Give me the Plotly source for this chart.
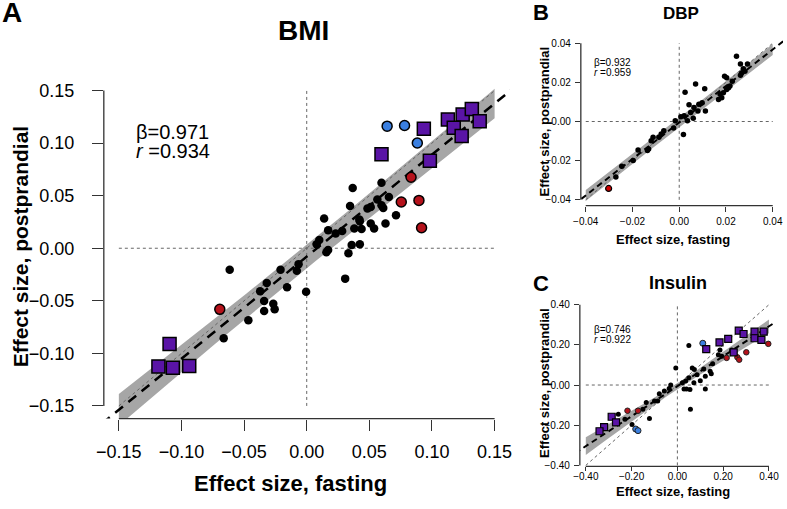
import numpy as np
import plotly.graph_objects as go

W, H = 787, 509
FONT = "Arial, Liberation Sans, Helvetica, sans-serif"

# ---------------- Panel A: BMI ----------------
bmi_black_x = [0.0367, 0.0597, 0.0346, 0.0564, 0.0656, 0.0611, 0.0485, 0.0511, 0.0713, 0.0139,
               0.0420, 0.0511, 0.0629, 0.0538, 0.0380, 0.0438, 0.0171, 0.0231, 0.0283, 0.0100,
               0.0079, 0.0359, 0.0424, 0.0171, 0.0157, 0.0333, -0.0209, -0.0065, -0.0079, 0.0307,
               -0.0319, -0.0157, -0.0005, -0.0372, -0.0340, -0.0267, -0.0256, -0.0340, -0.0615, -0.0466,
               -0.0663, 0.0424, 0.0597]
bmi_black_y = [0.0572, 0.0622, 0.0402, 0.0464, 0.0487, 0.0383, 0.0377, 0.0393, 0.0314, 0.0283,
               0.0273, 0.0236, 0.0236, 0.0188, 0.0188, 0.0182, 0.0172, 0.0141, 0.0163, 0.0078,
               0.0038, 0.0031, 0.0038, -0.0016, -0.0038, -0.0047, -0.0204, -0.0151, -0.0214, -0.0289,
               -0.0330, -0.0370, -0.0414, -0.0408, -0.0502, -0.0528, -0.0581, -0.0596, -0.0204, -0.0685,
               -0.0857, 0.0257, 0.0408]
bmi_red_x = [0.0833, 0.0755, 0.0896, 0.0917, -0.0694]
bmi_red_y = [0.0675, 0.0440, 0.0455, 0.0195, -0.0581]
bmi_blue_x = [0.0642, 0.0781, 0.0883]
bmi_blue_y = [0.1161, 0.1168, 0.1001]
bmi_purple_x = [0.0935, 0.0597, 0.1127, 0.1245, 0.1318, 0.1381, 0.1174, 0.1237, 0.0983,
                -0.1095, -0.1184, -0.1069, -0.0938]
bmi_purple_y = [0.1137, 0.0895, 0.1225, 0.1272, 0.1325, 0.1209, 0.1146, 0.1067, 0.0832,
                -0.0911, -0.1124, -0.1137, -0.1121]
bmi_beta, bmi_intercept, bmi_r = 0.971, -0.008, 0.934
bmi_band_x = [-0.15, -0.075, 0.0, 0.075, 0.15]
bmi_band_half = [0.015, 0.012, 0.011, 0.012, 0.014]
bmi_ticks = [-0.15, -0.10, -0.05, 0.00, 0.05, 0.10, 0.15]

# ---------------- Panel B: DBP ----------------
dbp_black_x = [0.0245, 0.0262, 0.0292, 0.0274, 0.0267, 0.0281, 0.0262, 0.0194, 0.0203, 0.0227,
               0.0217, 0.0203, 0.0189, 0.0175, 0.0168, 0.0182, 0.0211, 0.0109, 0.0070, 0.0025,
               0.0084, 0.0098, 0.0042, 0.0063, 0.0112, 0.0080, 0.0049, 0.0021, 0.0007, 0.0060,
               0.0035, -0.0017, -0.0024, 0.0018, -0.0066, -0.0077, -0.0087, -0.0112, -0.0120, -0.0131,
               -0.0136, -0.0176, -0.0197, -0.0246, -0.0271]
dbp_black_y = [0.0334, 0.0294, 0.0294, 0.0270, 0.0248, 0.0257, 0.0236, 0.0231, 0.0223, 0.0206,
               0.0181, 0.0164, 0.0147, 0.0139, 0.0113, 0.0122, 0.0172, 0.0167, 0.0192, 0.0150,
               0.0088, 0.0096, 0.0085, 0.0071, 0.0054, 0.0054, 0.0046, 0.0029, 0.0024, 0.0017,
               0.0004, 0.0004, -0.0033, -0.0067, -0.0047, -0.0064, -0.0081, -0.0081, -0.0098, -0.0140,
               -0.0148, -0.0145, -0.0199, -0.0229, -0.0284]
dbp_red_x = [-0.0302]
dbp_red_y = [-0.0342]
dbp_beta, dbp_intercept, dbp_r = 0.932, -0.0005, 0.959
dbp_band_x = [-0.04, 0.0, 0.04]
dbp_band_half = [0.0028, 0.0022, 0.0028]
dbp_ticks = [-0.04, -0.02, 0.00, 0.02, 0.04]

# ---------------- Panel C: Insulin ----------------
ins_black_x = [0.050, -0.007, 0.065, 0.074, 0.115, 0.143, 0.148, 0.086, 0.050, 0.036,
               0.022, 0.122, 0.100, 0.072, 0.029, 0.040, 0.055, 0.122, 0.057, -0.057,
               -0.036, -0.029, -0.079, -0.151, -0.122, 0.179, 0.194, 0.237, 0.154, -0.086,
               -0.136, -0.100, 0.186, -0.258, -0.229, -0.198]
ins_black_y = [0.197, 0.085, 0.085, 0.077, 0.080, 0.069, 0.056, 0.051, 0.036, 0.020,
               0.011, 0.044, 0.021, 0.011, -0.020, -0.020, -0.022, -0.020, -0.120, -0.030,
               -0.017, 0.000, -0.043, -0.120, -0.166, 0.151, 0.143, 0.175, 0.106, -0.079,
               -0.087, -0.079, 0.175, -0.145, -0.170, -0.197]
ins_red_x = [0.397, 0.301, 0.262, 0.270, 0.215, -0.218, -0.172]
ins_red_y = [0.205, 0.163, 0.138, 0.126, 0.135, -0.128, -0.128]
ins_blue_x = [0.111, -0.182, -0.172]
ins_blue_y = [0.208, -0.219, -0.227]
ins_purple_x = [0.268, 0.222, 0.184, 0.289, 0.337, 0.377, 0.337, 0.367, 0.246, 0.126,
                -0.287, -0.268, -0.320, -0.340]
ins_purple_y = [0.271, 0.230, 0.212, 0.254, 0.266, 0.266, 0.233, 0.225, 0.163, 0.179,
                -0.158, -0.186, -0.210, -0.230]
ins_beta, ins_intercept, ins_r = 0.746, -0.006, 0.922
ins_band_x = [-0.40, -0.20, 0.0, 0.20, 0.40]
ins_band_half = [0.044, 0.025, 0.013, 0.020, 0.034]
ins_ticks = [-0.40, -0.20, 0.00, 0.20, 0.40]

RED = "#B5121B"
BLUE = "#3A7FE0"
PURPLE = "#5A14A6"
BAND = "#A6A6A6"
AXC = "#333333"


def px(xp):
    return xp / W


def py(yp):
    return 1 - yp / H


fig = go.Figure()


def add_panel(ax, beta, icpt, band_x, band_half, lim, line_w, dash_w, groups):
    xa = "x" + ("" if ax == 1 else str(ax))
    ya = "y" + ("" if ax == 1 else str(ax))
    bx = np.array(band_x, dtype=float)
    fine = np.linspace(bx[0], bx[-1], 60)
    half = np.interp(fine, bx, np.array(band_half, dtype=float))
    mid = beta * fine + icpt
    fig.add_trace(go.Scatter(x=np.concatenate([fine, fine[::-1]]),
                             y=np.concatenate([mid + half, (mid - half)[::-1]]),
                             fill="toself", fillcolor=BAND, line=dict(width=0),
                             mode="lines", hoverinfo="skip", xaxis=xa, yaxis=ya))
    # dotted reference lines
    for xs, ys in [([0, 0], [-lim, lim]), ([-lim, lim], [0, 0]), ([-lim, lim], [-lim, lim])]:
        fig.add_trace(go.Scatter(x=xs, y=ys, mode="lines",
                                 line=dict(color="#666666", width=1, dash="dot"),
                                 hoverinfo="skip", xaxis=xa, yaxis=ya))
    # regression line
    ext = lim * 1.3
    fig.add_trace(go.Scatter(x=[-ext, ext], y=[beta * -ext + icpt, beta * ext + icpt],
                             mode="lines", line=dict(color="black", width=dash_w, dash=line_w),
                             hoverinfo="skip", xaxis=xa, yaxis=ya))
    for gx, gy, marker in groups:
        fig.add_trace(go.Scatter(x=gx, y=gy, mode="markers", marker=marker,
                                 cliponaxis=False, xaxis=xa, yaxis=ya))


add_panel(1, bmi_beta, bmi_intercept, bmi_band_x, bmi_band_half, 0.15, "10px,7px", 2.5, [
    (bmi_black_x, bmi_black_y, dict(color="black", size=8.5, line=dict(width=0))),
    (bmi_red_x, bmi_red_y, dict(color=RED, size=10, line=dict(color="black", width=1.5))),
    (bmi_blue_x, bmi_blue_y, dict(color=BLUE, size=10, line=dict(color="black", width=1.5))),
    (bmi_purple_x, bmi_purple_y, dict(color=PURPLE, size=13, symbol="square",
                                      line=dict(color="black", width=1.5))),
])
add_panel(2, dbp_beta, dbp_intercept, dbp_band_x, dbp_band_half, 0.04, "6px,4px", 2, [
    (dbp_black_x, dbp_black_y, dict(color="black", size=5.5, line=dict(width=0))),
    (dbp_red_x, dbp_red_y, dict(color="#D00000", size=6, line=dict(color="black", width=1.2))),
])
add_panel(3, ins_beta, ins_intercept, ins_band_x, ins_band_half, 0.40, "6px,4px", 2, [
    (ins_black_x, ins_black_y, dict(color="black", size=5, line=dict(width=0))),
    (ins_red_x, ins_red_y, dict(color=RED, size=5.5, line=dict(color="#222222", width=1))),
    (ins_blue_x, ins_blue_y, dict(color=BLUE, size=6, line=dict(color="#222222", width=1))),
    (ins_purple_x, ins_purple_y, dict(color=PURPLE, size=7, symbol="square",
                                      line=dict(color="black", width=1.2))),
])


def axis(domain, rng, ticks, fsize, tlen, anchor, standoff):
    return dict(domain=domain, range=rng, tickvals=ticks, tickformat=".2f",
                showgrid=False, zeroline=False, showline=False, ticks="outside",
                ticklen=tlen, tickwidth=1.2, tickcolor=AXC, anchor=anchor,
                tickfont=dict(family=FONT, size=fsize, color="black"),
                ticklabelstandoff=standoff, fixedrange=True)


# pixel boxes of the three plot regions (left, right, top, bottom)
A_box = (97.3, 509.4, 77.7, 421.7)
B_box = (581.7, 787.0, 36.7, 206.7)
C_box = (580.7, 778.8, 301.7, 470.0)
A_lim = [-0.162, 0.162]
B_xlim, B_ylim = [-0.0421, 0.0444], [-0.043, 0.043]
C_xlim, C_ylim = [-0.426, 0.426], [-0.405, 0.4246]

fig.update_layout(
    width=W, height=H, margin=dict(l=0, r=0, t=0, b=0),
    paper_bgcolor="white", plot_bgcolor="white", showlegend=False,
    xaxis=axis([px(A_box[0]), px(A_box[1])], A_lim, bmi_ticks, 18, 11, "y", 6),
    yaxis=axis([py(A_box[3]), py(A_box[2])], A_lim, bmi_ticks, 18, 11, "x", 14),
    xaxis2=axis([px(B_box[0]), px(B_box[1])], B_xlim, dbp_ticks, 10, 5, "y2", 1),
    yaxis2=axis([py(B_box[3]), py(B_box[2])], B_ylim, dbp_ticks, 10, 5, "x2", 2),
    xaxis3=axis([px(C_box[0]), px(C_box[1])], C_xlim, ins_ticks, 10, 4, "y3", -3),
    yaxis3=axis([py(C_box[3]), py(C_box[2])], C_ylim, ins_ticks, 10, 5, "x3", 2),
)

shapes = []
for xa, ya, lo, hi in [("x", "y", -0.15, 0.15), ("x2", "y2", -0.04, 0.04), ("x3", "y3", -0.4, 0.4)]:
    shapes.append(dict(type="line", xref=xa, yref=ya + " domain", x0=lo, x1=hi, y0=0, y1=0,
                       line=dict(color=AXC, width=1.3)))
    shapes.append(dict(type="line", xref=xa + " domain", yref=ya, x0=0, x1=0, y0=lo, y1=hi,
                       line=dict(color=AXC, width=1.3)))
fig.update_layout(shapes=shapes)


def txt(x, y, s, size, bold=False, xanchor="center", yanchor="middle", angle=0):
    fig.add_annotation(x=px(x), y=py(y), xref="paper", yref="paper", text=s if not bold else "<b>" + s + "</b>",
                       showarrow=False, xanchor=xanchor, yanchor=yanchor, textangle=angle,
                       borderpad=0, font=dict(family=FONT, size=size, color="black"))


# panel letters and titles
txt(4, 12, "A", 28, True)
txt(300, 30, "BMI", 28, True)
txt(541, 12, "B", 22, True)
txt(683, 13, "DBP", 17, True)
txt(541, 285, "C", 22, True)
txt(680, 285, "Insulin", 18, True)

# axis titles
txt(287, 487, "Effect size, fasting", 22, True)
txt(13, 248, "Effect size, postprandial", 21, True, angle=-90)
txt(675, 241, "Effect size, fasting", 13, True)
txt(545, 122, "Effect size, postprandial", 13, True, angle=-90)
txt(675, 495, "Effect size, fasting", 13, True)
txt(545, 386, "Effect size, postprandial", 13, True, angle=-90)

# statistics
txt(129, 132, "β=%.3f" % bmi_beta, 20, xanchor="left")
txt(129, 151, "<i>r</i> =%.3f" % bmi_r, 20, xanchor="left")
txt(594, 62, "β=%.3f" % dbp_beta, 10, xanchor="left")
txt(594, 72.5, "<i>r</i> =%.3f" % dbp_r, 10, xanchor="left")
txt(594, 331.5, "β=%.3f" % ins_beta, 10, xanchor="left")
txt(594, 342, "<i>r</i> =%.3f" % ins_r, 10, xanchor="left")

fig.write_html("out.html", config={"displayModeBar": False},
               post_script="document.body.style.margin='0px';document.body.style.overflow='hidden';")
